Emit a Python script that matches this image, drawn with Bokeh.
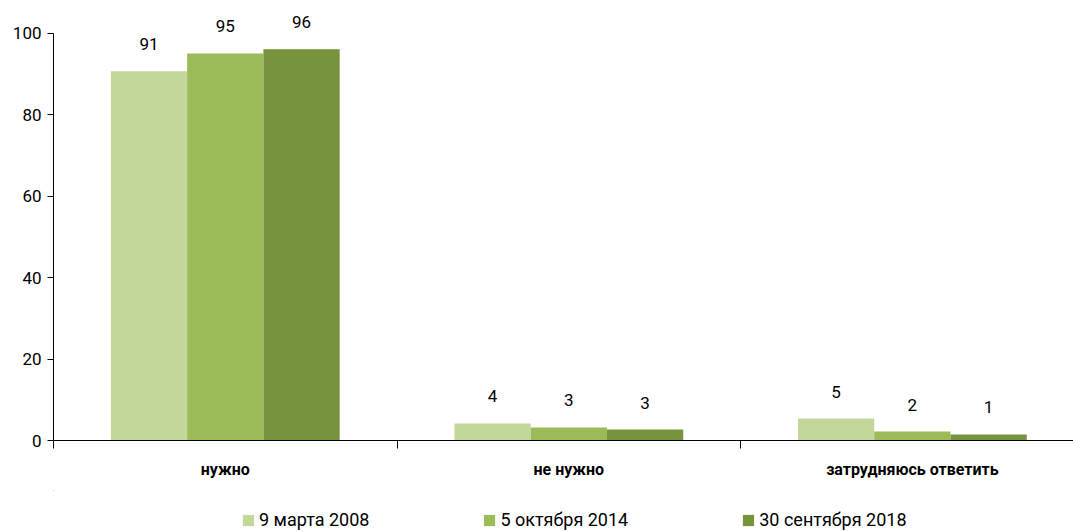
from bokeh.plotting import figure
from bokeh.layouts import column
from bokeh.models import (ColumnDataSource, FixedTicker, LabelSet, Legend, LegendItem, Range1d)
from bokeh.core.properties import value
from bokeh.embed import file_html
from bokeh.resources import INLINE

categories = ["нужно", "не нужно", "затрудняюсь ответить"]
series_names = ["9 марта 2008", "5 октября 2014", "30 сентября 2018"]
values_2008 = [90.7, 4.2, 5.4]
values_2014 = [95.1, 3.2, 2.2]
values_2018 = [96.1, 2.7, 1.5]
labels_2008 = ["91", "4", "5"]
labels_2014 = ["95", "3", "2"]
labels_2018 = ["96", "3", "1"]
y_ticks = [0, 20, 40, 60, 80, 100]

colors = ["#C4D79B", "#9BBB59", "#77933C"]
FONT = "Roboto"

p = figure(width=1073, height=490, output_backend="svg", toolbar_location=None,
           x_range=Range1d(0, 2.969), y_range=Range1d(0, 108.1),
           min_border_left=53, min_border_right=0, min_border_top=0, min_border_bottom=50)
p.outline_line_color = None
p.grid.visible = False
p.background_fill_color = "white"

offsets = [-0.222, 0.0, 0.222]
width = 0.222
all_vals = [values_2008, values_2014, values_2018]
all_labels = [labels_2008, labels_2014, labels_2018]
sources = []
for k in range(3):
    xs = [i + 0.5 + offsets[k] for i in range(len(categories))]
    src = ColumnDataSource(dict(x=xs, top=all_vals[k], lab=all_labels[k]))
    sources.append(src)
    p.vbar(x="x", top="top", bottom=0, width=width, source=src,
           fill_color=colors[k], line_color=None)
    ls = LabelSet(x="x", y="top", text="lab", source=src, y_offset=21,
                  text_align="center", text_baseline="alphabetic",
                  text_font=value(FONT), text_font_size=value("17px"),
                  text_color=value("black"))
    p.add_layout(ls)

# x axis
xa = p.xaxis[0]
xa.ticker = FixedTicker(ticks=[i + 0.5 for i in range(len(categories))],
                        minor_ticks=[0, 1, 2, 3])
xa.major_label_overrides = {i + 0.5: c for i, c in enumerate(categories)}
xa.major_tick_out = 8
xa.major_tick_in = 0
xa.major_tick_line_alpha = 0
xa.minor_tick_out = 8
xa.minor_tick_in = 0
xa.minor_tick_line_color = "black"
xa.axis_line_color = "black"
xa.major_label_standoff = 11
xa.major_label_text_font = FONT
xa.major_label_text_font_size = "16px"
xa.major_label_text_font_style = "bold"
xa.major_label_text_color = "black"

# y axis
ya = p.yaxis[0]
ya.ticker = FixedTicker(ticks=y_ticks)
ya.bounds = (0, 100)
ya.major_tick_out = 6
ya.major_tick_in = 0
ya.minor_tick_line_color = None
ya.axis_line_color = "black"
ya.major_label_standoff = 6
ya.major_label_text_font = FONT
ya.major_label_text_font_size = "17px"
ya.major_label_text_color = "black"

# legend strip (its bars lie far outside the strip's visible range; only the swatches show)
lf = figure(width=1073, height=41, output_backend="svg", toolbar_location=None,
            x_axis_type=None, y_axis_type=None, min_border=0,
            x_range=Range1d(100, 103), y_range=Range1d(-300, -200))
lf.outline_line_color = None
lf.grid.visible = False
items = []
for k in range(3):
    r = lf.vbar(x="x", top="top", bottom=0, width=width, source=sources[k],
                fill_color=colors[k], line_color=None)
    items.append(LegendItem(label=series_names[k], renderers=[r]))
legend = Legend(items=items, orientation="horizontal", location=(188, 1),
                spacing=113, padding=0, margin=0, border_line_color=None,
                glyph_width=14, glyph_height=14, label_standoff=4,
                label_text_font=FONT, label_text_font_size="18px",
                label_height=16,
                label_text_color="black", background_fill_alpha=0)
lf.add_layout(legend, "center")

layout = column(p, lf, spacing=0)
open("out.html", "w").write(file_html(layout, INLINE))
